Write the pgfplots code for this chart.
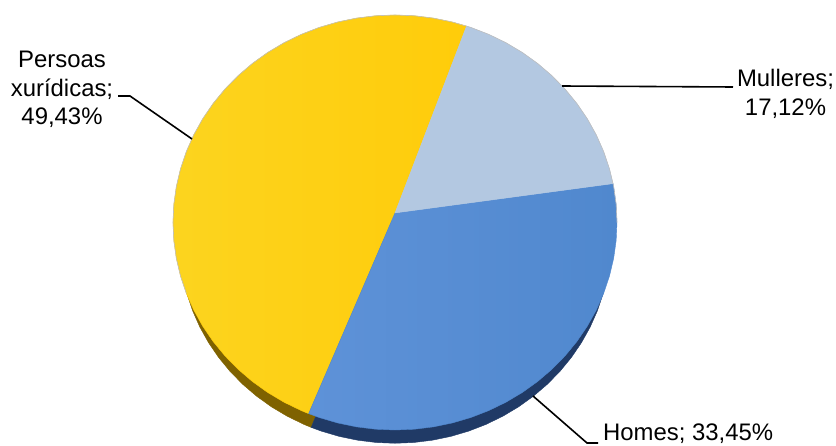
\documentclass[border=0pt]{standalone}
\usepackage{fontspec}
\setmainfont{Liberation Sans}
\usepackage{pgfplots}
\pgfplotsset{compat=1.18}

\definecolor{amarelo}{HTML}{FFCC0A}
\definecolor{amareloclaro}{HTML}{FCD41F}
\definecolor{amareloesc}{HTML}{7F6200}
\definecolor{azul}{HTML}{5088CE}
\definecolor{azulclaro}{HTML}{5E92D8}
\definecolor{azulesc}{HTML}{203A66}
\definecolor{celeste}{HTML}{B3C8E1}

\begin{document}
\begin{tikzpicture}
\begin{axis}[
    scale only axis,
    width=836pt,
    height=446pt,
    xmin=-1.7793, xmax=1.9865,
    ymin=-1.0771, ymax=1.0723,
    hide axis,
    clip=false,
]
% keep the whole axis rectangle as the page
\path (rel axis cs:0,0) rectangle (rel axis cs:1,1);

% side of the pie (a slightly narrower ellipse, lower down)
\addplot[amareloesc, fill=amareloesc, yshift=-19.5pt, data cs=polar] coordinates {
    (90,0.1) (180,0.97) (185,0.97) (190,0.97) (195,0.97) (200,0.97) (205,0.97) (210,0.97)
    (215,0.97) (220,0.97) (225,0.97) (230,0.97) (235,0.97) (240,0.97) (245,0.97) (247.1,0.97)
} -- cycle;
\addplot[azulesc, fill=azulesc, yshift=-19.5pt, data cs=polar] coordinates {
    (90,0.1) (247.1,0.97) (250,0.97) (255,0.97) (260,0.97) (265,0.97) (270,0.97) (275,0.97)
    (280,0.97) (285,0.97) (290,0.97) (295,0.97) (300,0.97) (305,0.97) (310,0.97) (315,0.97)
    (320,0.97) (325,0.97) (330,0.97) (335,0.97) (340,0.97) (345,0.97) (350,0.97) (355,0.97) (360,0.97)
} -- cycle;

% top face: Persoas xuridicas
\addplot[draw=amarelo, left color=amareloclaro, right color=amarelo, data cs=polar] coordinates {
    (90,0.046) (71.2,1) (75,1) (80,1) (85,1) (90,1) (95,1) (100,1) (105,1) (110,1)
    (115,1) (120,1) (125,1) (130,1) (135,1) (140,1) (145,1) (150,1) (155,1) (160,1)
    (165,1) (170,1) (175,1) (180,1) (185,1) (190,1) (195,1) (200,1) (205,1) (210,1)
    (215,1) (220,1) (225,1) (230,1) (235,1) (240,1) (245,1) (247.1,1)
} -- cycle;
% Homes
\addplot[draw=azul, left color=azulclaro, right color=azul, data cs=polar] coordinates {
    (90,0.046) (247.1,1) (250,1) (255,1) (260,1) (265,1) (270,1) (275,1) (280,1) (285,1)
    (290,1) (295,1) (300,1) (305,1) (310,1) (315,1) (320,1) (325,1) (330,1) (335,1)
    (340,1) (345,1) (350,1) (355,1) (360,1) (365,1) (370,1) (370.8,1)
} -- cycle;
% Mulleres
\addplot[draw=celeste, fill=celeste, data cs=polar] coordinates {
    (90,0.046) (10.8,1) (15,1) (20,1) (25,1) (30,1) (35,1) (40,1) (45,1) (50,1)
    (55,1) (60,1) (65,1) (70,1) (71.2,1)
} -- cycle;

% thin grey rim along the top
\addplot[black!25, line width=0.6pt, data cs=polar] coordinates {
    (0,1) (5,1) (10,1) (15,1) (20,1) (25,1) (30,1) (35,1) (40,1) (45,1) (50,1) (55,1)
    (60,1) (65,1) (70,1) (75,1) (80,1) (85,1) (90,1) (95,1) (100,1) (105,1) (110,1)
    (115,1) (120,1) (125,1) (130,1) (135,1) (140,1) (145,1) (150,1) (155,1) (160,1)
    (165,1) (170,1) (175,1) (180,1) (185,1) (190,1) (195,1) (200,1)
};

% leader lines
\addplot[black, line width=1.6pt] coordinates {(-1.2477,0.6096) (-1.1937,0.6096) (-0.9144,0.4024)};
\addplot[black, line width=1.6pt] coordinates {(0.7523,0.6578) (1.5225,0.6530)};
\addplot[black, line width=1.6pt] coordinates {(0.6216,-0.8361) (0.8649,-1.0627) (0.9144,-1.0627)};

% labels
\node[align=center, font=\fontsize{23.9}{28.5}\selectfont, inner sep=0pt] at (axis cs:-1.5,0.64) {Persoas\\xurídicas;\\49,43\%};
\node[align=center, font=\fontsize{23.9}{28.5}\selectfont, inner sep=0pt] at (axis cs:1.759,0.62) {Mulleres;\\17,12\%};
\node[anchor=west, font=\fontsize{23.9}{28.5}\selectfont, inner sep=0pt] at (axis cs:0.9369,-1.018) {Homes; 33,45\%};
\end{axis}
\end{tikzpicture}
\end{document}
